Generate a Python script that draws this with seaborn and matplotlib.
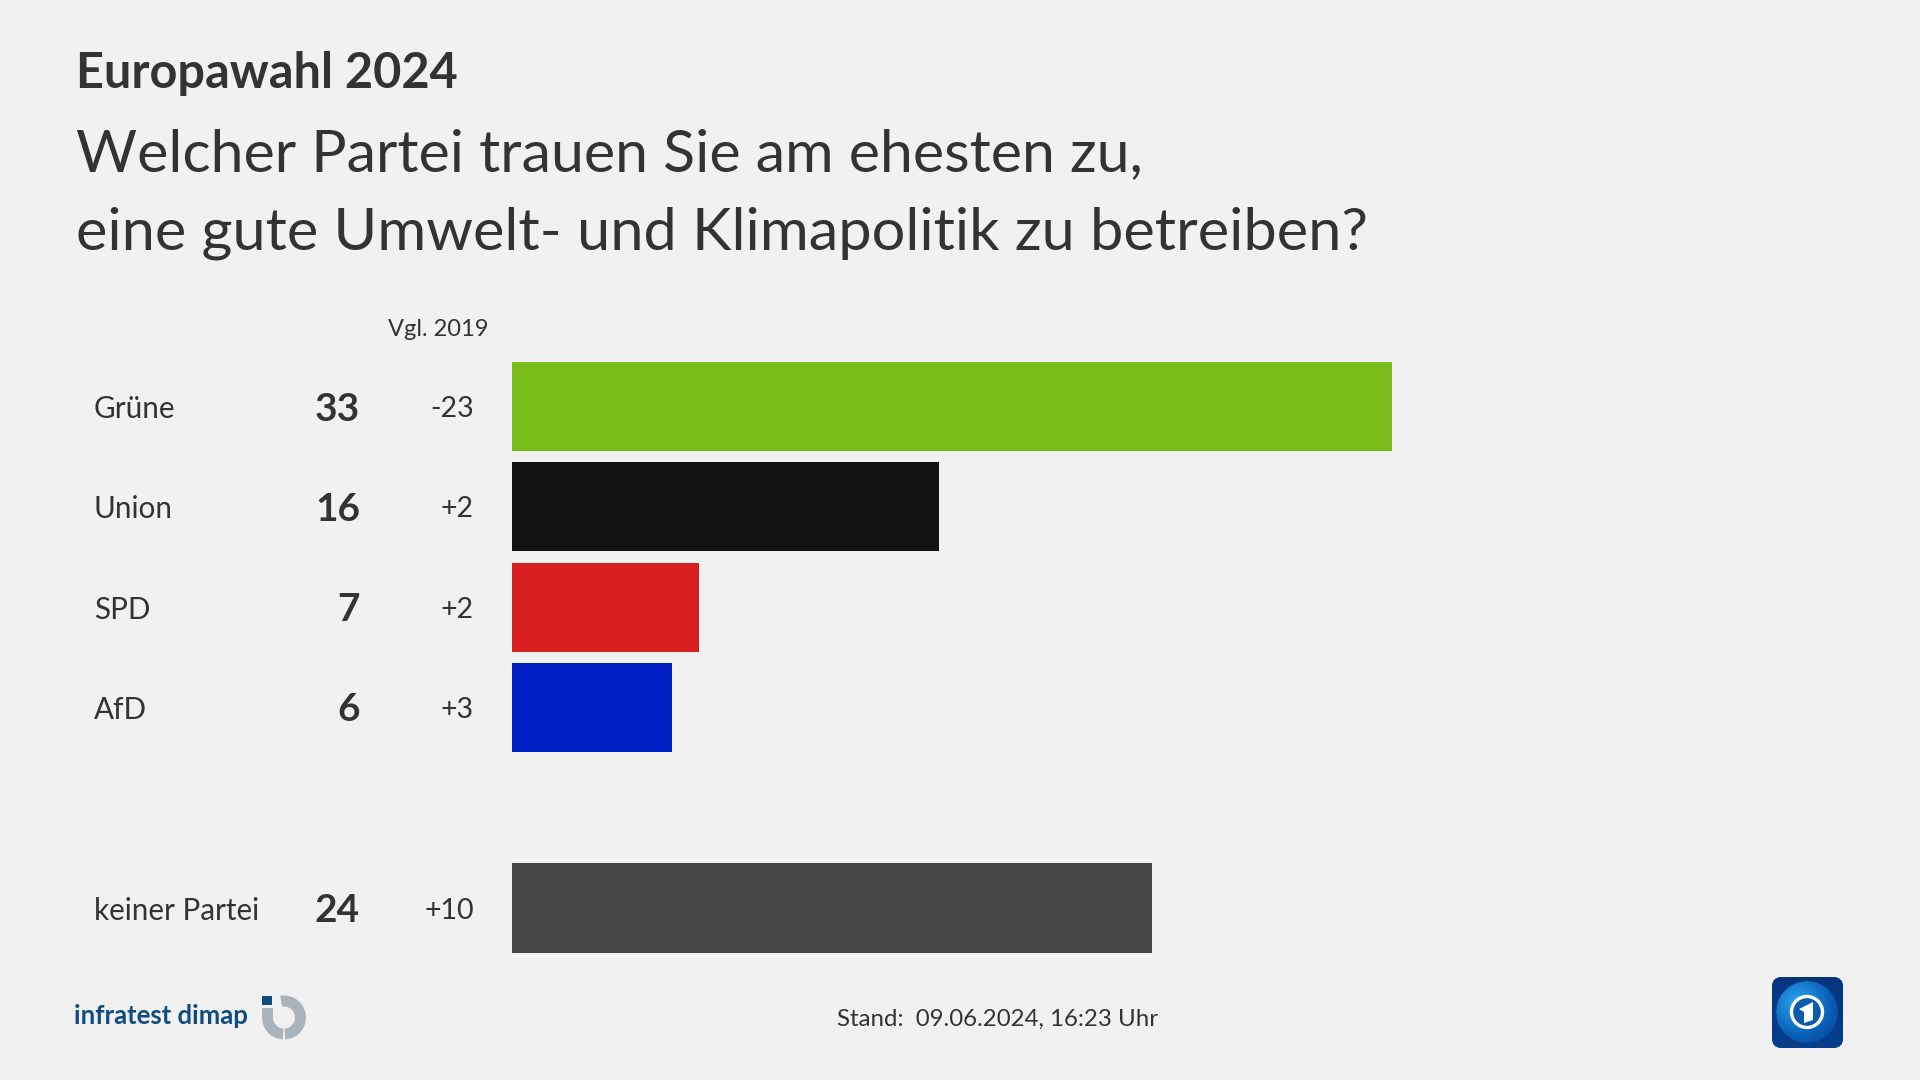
import numpy as np
import pandas as pd
import seaborn as sns
import matplotlib.pyplot as plt
from matplotlib.patches import Circle, FancyBboxPatch, Rectangle, Wedge, Polygon
from matplotlib.transforms import blended_transform_factory

# values
parties = ["Grüne", "Union", "SPD", "AfD", "", "keiner Partei"]
shares = [33, 16, 7, 6, None, 24]
changes = ["-23", "+2", "+2", "+3", "", "+10"]
bar_colors = ["#7abd1b", "#121212", "#d81f1f", "#0020c4", "#f1f1f1", "#464646"]

eyebrow = "Europawahl 2024"
title_lines = ["Welcher Partei trauen Sie am ehesten zu,",
               "eine gute Umwelt- und Klimapolitik zu betreiben?"]
compare_label = "Vgl. 2019"
stand_label = "Stand:  09.06.2024, 16:23 Uhr"
source_label = "infratest dimap"

BG = "#f1f1f1"
TEXT = "#333333"
W, H = 1920, 1080

sns.set_theme(style="white")
plt.rcParams["font.family"] = ["Lato", "DejaVu Sans"]

df = pd.DataFrame({"party": parties, "share": shares})

fig = plt.figure(figsize=(W / 100, H / 100), dpi=100, facecolor=BG)

# chart area in pixels: bars start at x=512, 33 ends at x=1392
top, bottom = 356.4, 958.2
ax = fig.add_axes([512 / W, 1 - bottom / H, (1392 - 512) / W, (bottom - top) / H])
ax.set_facecolor(BG)
sns.barplot(data=df, y="party", x="share", hue="party", order=parties, hue_order=parties,
            palette=bar_colors, dodge=False, legend=False, width=0.89, saturation=1,
            linewidth=0, edgecolor="none", ax=ax)
ax.set_xlim(0, max(s for s in shares if s is not None))
ax.set_ylim(5.5, -0.5)
ax.axis("off")

# overlay in pixel coordinates for the texts and logos
ov = fig.add_axes([0, 0, 1, 1], facecolor="none")
ov.set_xlim(0, W)
ov.set_ylim(H, 0)
ov.axis("off")
row = blended_transform_factory(ov.transData, ax.transData)
PX = 2.5  # small shift down against the row centre

ov.text(76, 73, eyebrow, fontsize=35, fontweight="bold", color=TEXT, va="center", ha="left")
ov.text(76, 155, title_lines[0], fontsize=42.5, color=TEXT, va="center", ha="left")
ov.text(76, 233, title_lines[1], fontsize=42.8, color=TEXT, va="center", ha="left")
ov.text(489, 330, compare_label, fontsize=17, color=TEXT, va="center", ha="right")

for i, (name, val, chg) in enumerate(zip(parties, shares, changes)):
    if val is None:
        continue
    ov.text(94, i + PX / 100.3, name, transform=row, fontsize=21.3, color=TEXT, va="center", ha="left")
    ov.text(360, i + PX / 100.3, str(val), transform=row, fontsize=28, fontweight="bold", color=TEXT,
            va="center", ha="right")
    ov.text(474, i + PX / 100.3, chg, transform=row, fontsize=20.5, color=TEXT, va="center", ha="right")

ov.text(998, 1019, stand_label, fontsize=17.25, color=TEXT, va="center", ha="center")

# infratest dimap logo
ov.text(74, 1016, source_label, fontsize=18.5, fontweight="bold", color="#0f4c81",
        va="center", ha="left")
ring = "#aab4bd"
ov.add_patch(Wedge((284, 1017.5), 22, -100, 87, width=11, color=ring, lw=0))
ov.add_patch(Wedge((284, 1017.5), 22, 93, 180, width=11, color=ring, lw=0))
ov.add_patch(Rectangle((262, 1008), 11, 10, color=ring, lw=0))
ov.add_patch(Rectangle((262, 996), 10, 9, color="#0f4c81", lw=0))

# tagesschau logo: rounded square with a globe
box = FancyBboxPatch((1772, 977), 71, 71, boxstyle="round,pad=0,rounding_size=10",
                     facecolor="#06408f", edgecolor="none")
ov.add_patch(box)
yy, xx = np.mgrid[977:1048:142j, 1772:1843:142j]
dist = np.hypot(xx - 1807, yy - 1012)
shade = np.clip(1 - np.hypot(xx - 1798, yy - 1003) / 42, 0, 1)
glow = np.where(dist < 31, 0.35 + 0.65 * shade, 0.12 * (yy - 977) / 71)
grad = ov.imshow(glow, extent=(1772, 1843, 1048, 977), cmap=sns.blend_palette(
    ["#05357f", "#0a5fb6", "#2aa8ee"], as_cmap=True), vmin=0, vmax=1, aspect="auto", zorder=2)
grad.set_clip_path(box)
ov.set_xlim(0, W)
ov.set_ylim(H, 0)
ov.add_patch(Circle((1807, 1012), 15.5, facecolor="#0b5cab", edgecolor="white", lw=2.4, zorder=3))
ov.add_patch(Polygon([(1799, 1009), (1813, 1002), (1813, 1020), (1804, 1023), (1804, 1012)],
                     facecolor="white", edgecolor="none", zorder=4))

fig.savefig("out.png", dpi=100, facecolor=BG)
